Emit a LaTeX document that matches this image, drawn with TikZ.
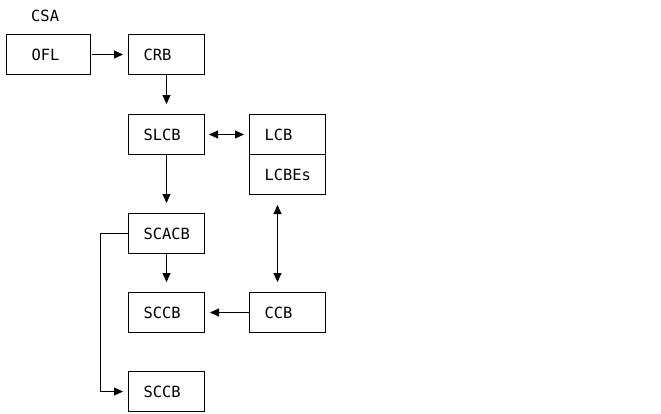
\documentclass[tikz,border=0pt]{standalone}
\usepackage{fontspec}
\setmonofont{DejaVu Sans Mono}
\usetikzlibrary{arrows.meta}
\begin{document}
\begin{tikzpicture}[x=1bp,y=-1bp,
  every node/.style={font=\ttfamily\fontsize{15.5}{17}\selectfont},
  box/.style={draw, line width=1bp, anchor=north west, minimum height=40bp,
    text width=46bp, inner xsep=15bp, inner ysep=0pt, align=left},
  link/.style={line width=1bp, -{Triangle[length=9bp,width=8bp]}},
  both/.style={line width=1bp, {Triangle[length=9bp,width=8bp]}-{Triangle[length=9bp,width=8bp]}}]
\useasboundingbox (0,0) rectangle (661,413);

% title
\node[anchor=west, inner sep=0pt] (csa) at (31,16) {CSA};

% control blocks
\node[box, text width=34bp, inner xsep=25bp] (ofl) at (6,34) {OFL};
\node[box] (crb)   at (128,34)  {CRB};
\node[box] (slcb)  at (128,114) {SLCB};
\node[box] (lcb)   at (249,114) {LCB};
\node[box] (lcbes) at (249,154) {LCBEs};
\node[box] (scacb) at (128,213) {SCACB};
\node[box] (sccba) at (128,292) {SCCB};
\node[box] (ccb)   at (249,292) {CCB};
\node[box] (sccbb) at (128,371) {SCCB};

% connectors
\draw[link, shorten <=1bp, shorten >=5bp] (ofl.east) -- (crb.west);
\draw[link, shorten >=10bp] (crb.south) -- (slcb.north);
\draw[both, shorten <=4bp, shorten >=5bp] (slcb.east) -- (lcb.west);
\draw[link, shorten >=10bp] (slcb.south) -- (scacb.north);
\draw[link, shorten >=10bp] (scacb.south) -- (sccba.north);
\draw[both, shorten <=10bp, shorten >=10bp] ([xshift=-10bp]lcbes.south) -- ([xshift=-10bp]ccb.north);
\draw[link, shorten >=5bp] (ccb.west) -- (sccba.east);
\coordinate (bend) at (100,0);
\draw[link, shorten >=5bp] (scacb.west) -- (scacb.west -| bend) |- (sccbb.west);
\end{tikzpicture}
\end{document}
